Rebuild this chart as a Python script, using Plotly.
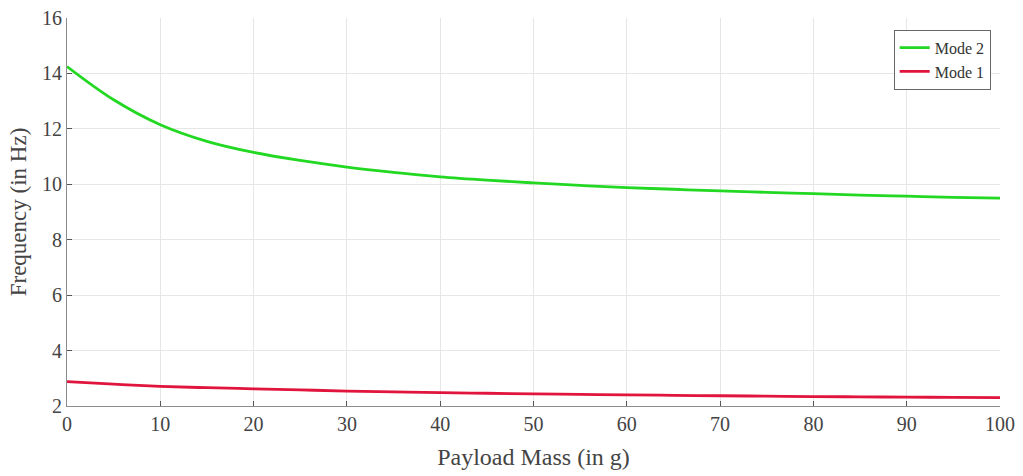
import plotly.graph_objects as go

mass = [0, 5, 10, 15, 20, 25, 30, 35, 40, 45, 50, 55, 60, 65, 70, 75, 80, 85, 90, 95, 100]
mode2 = [14.25, 13.05, 12.15, 11.55, 11.15, 10.86, 10.62, 10.43, 10.27, 10.15, 10.05,
         9.96, 9.88, 9.82, 9.76, 9.71, 9.66, 9.61, 9.57, 9.53, 9.5]
mode1 = [2.88, 2.79, 2.71, 2.66, 2.62, 2.58, 2.54, 2.51, 2.48, 2.46, 2.44,
         2.42, 2.40, 2.385, 2.37, 2.355, 2.34, 2.33, 2.32, 2.31, 2.30]

xticks = [0, 10, 20, 30, 40, 50, 60, 70, 80, 90, 100]
yticks = [2, 4, 6, 8, 10, 12, 14, 16]

font = "Liberation Serif"

fig = go.Figure()
fig.add_trace(go.Scatter(x=mass, y=mode2, mode="lines", name="Mode 2",
                         line=dict(color="#22d822", width=2.8, shape="spline")))
fig.add_trace(go.Scatter(x=mass, y=mode1, mode="lines", name="Mode 1",
                         line=dict(color="#e0143c", width=2.8, shape="spline")))

axis_common = dict(
    showgrid=True, gridcolor="#e6e6e6", gridwidth=1,
    showline=True, linecolor="#8c8c8c", linewidth=1,
    ticks="inside", ticklen=5, tickcolor="#555555",
    tickfont=dict(family=font, size=20, color="#444444"),
    zeroline=False, mirror=False, automargin=False,
)

fig.update_layout(
    width=1023, height=476,
    margin=dict(l=67, r=23, t=18, b=70),
    paper_bgcolor="white", plot_bgcolor="white",
    font=dict(family=font, color="#444444"),
    showlegend=True,
    legend=dict(x=0.99, y=0.97, xanchor="right", yanchor="top",
                bgcolor="white", bordercolor="#666666", borderwidth=1,
                font=dict(family=font, size=16, color="#333333"),
                tracegroupgap=0, itemwidth=30),
)
fig.update_xaxes(range=[0, 100], tickvals=xticks, **axis_common,
                 title=dict(text="Payload Mass (in g)", font=dict(family=font, size=24, color="#444444"), standoff=14))
fig.update_yaxes(range=[2, 16], tickvals=yticks, **axis_common,
                 title=dict(text="Frequency (in Hz)", font=dict(family=font, size=23, color="#444444"), standoff=8))

fig.write_html("out.html")
